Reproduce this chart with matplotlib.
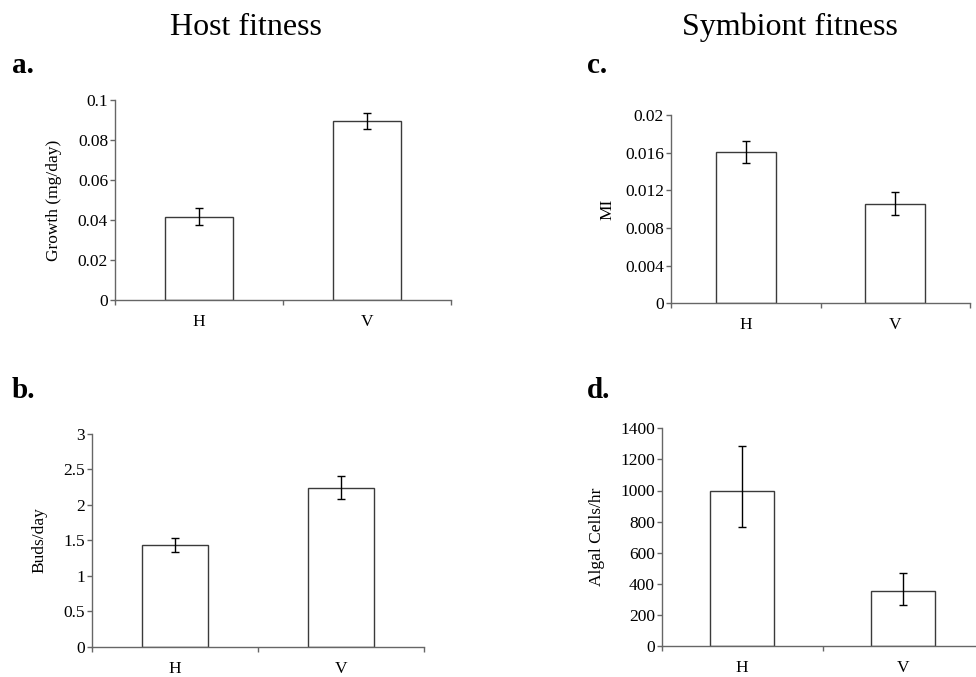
import matplotlib.pyplot as plt

plt.rcParams['font.family'] = ['Liberation Serif', 'DejaVu Serif']

categories = ['H', 'V']

growth = [0.0416, 0.0895]
growth_err = [0.0043, 0.0042]

buds = [1.44, 2.24]
buds_err = [0.10, 0.16]

mi = [0.01605, 0.01058]
mi_err = [0.0012, 0.0012]

algal = [995, 352]
algal_err_low = [230, 86]
algal_err_high = [290, 115]

W, H = 976, 677
fig = plt.figure(figsize=(W / 100, H / 100), dpi=100)


def px_axes(left, right, top, bottom):
    return fig.add_axes([left / W, 1 - bottom / H, (right - left) / W, (bottom - top) / H])


def panel(ax, vals, err, ymax, yticks, ylabels, ylabel, label_x):
    x = range(len(categories))
    ax.bar(x, vals, width=0.4, color='white', edgecolor='#3a3a3a', linewidth=1.0, zorder=2)
    ax.errorbar(x, vals, yerr=err, fmt='none', ecolor='black', elinewidth=1.0,
                capsize=3, capthick=1.0, zorder=3)
    ax.set_xlim(-0.5, len(categories) - 0.5)
    ax.set_ylim(0, ymax)
    ax.set_yticks(yticks)
    ax.set_yticklabels(ylabels)
    # category boundaries get the ticks, the names sit in between
    ax.set_xticks([i - 0.5 for i in range(len(categories) + 1)])
    ax.set_xticklabels([])
    ax.set_xticks(list(x), minor=True)
    ax.set_xticklabels(categories, minor=True)
    ax.tick_params(axis='x', which='minor', length=0, pad=10, labelsize=12.5)
    ax.tick_params(axis='x', which='major', direction='out', length=3.5, width=1, color='#666666')
    ax.tick_params(axis='y', direction='out', length=3.5, width=1, color='#666666', pad=1.5,
                   labelsize=12.5)
    for s in ['top', 'right']:
        ax.spines[s].set_visible(False)
    for s in ['left', 'bottom']:
        ax.spines[s].set_color('#666666')
        ax.spines[s].set_linewidth(1.0)
    ax.set_ylabel(ylabel, fontsize=12.5)
    ax.yaxis.set_label_coords(label_x, 0.5)


ax_a = px_axes(115, 451, 100, 300)
panel(ax_a, growth, growth_err, 0.1, [0, 0.02, 0.04, 0.06, 0.08, 0.1],
      ['0', '0.02', '0.04', '0.06', '0.08', '0.1'], 'Growth (mg/day)', -0.158)

ax_b = px_axes(92, 424, 433.7, 647)
panel(ax_b, buds, buds_err, 3, [0, 0.5, 1, 1.5, 2, 2.5, 3],
      ['0', '0.5', '1', '1.5', '2', '2.5', '3'], 'Buds/day', -0.133)

ax_c = px_axes(671, 970, 115, 303.3)
panel(ax_c, mi, mi_err, 0.02, [0, 0.004, 0.008, 0.012, 0.016, 0.02],
      ['0', '0.004', '0.008', '0.012', '0.016', '0.02'], 'MI', -0.187)

ax_d = px_axes(662, 983, 428.3, 646)
panel(ax_d, algal, [algal_err_low, algal_err_high], 1400, [0, 200, 400, 600, 800, 1000, 1200, 1400],
      ['0', '200', '400', '600', '800', '1000', '1200', '1400'], 'Algal Cells/hr', -0.178)

fig.text(246 / W, 1 - 35 / H, 'Host fitness', ha='center', va='baseline', fontsize=23)
fig.text(790 / W, 1 - 35 / H, 'Symbiont fitness', ha='center', va='baseline', fontsize=23)

for letter, lx, ly in [('a.', 12, 73), ('c.', 587, 73), ('b.', 12, 398), ('d.', 587, 398)]:
    fig.text(lx / W, 1 - ly / H, letter, ha='left', va='baseline', fontsize=21, fontweight='bold')

fig.savefig('out.png', dpi=100)
